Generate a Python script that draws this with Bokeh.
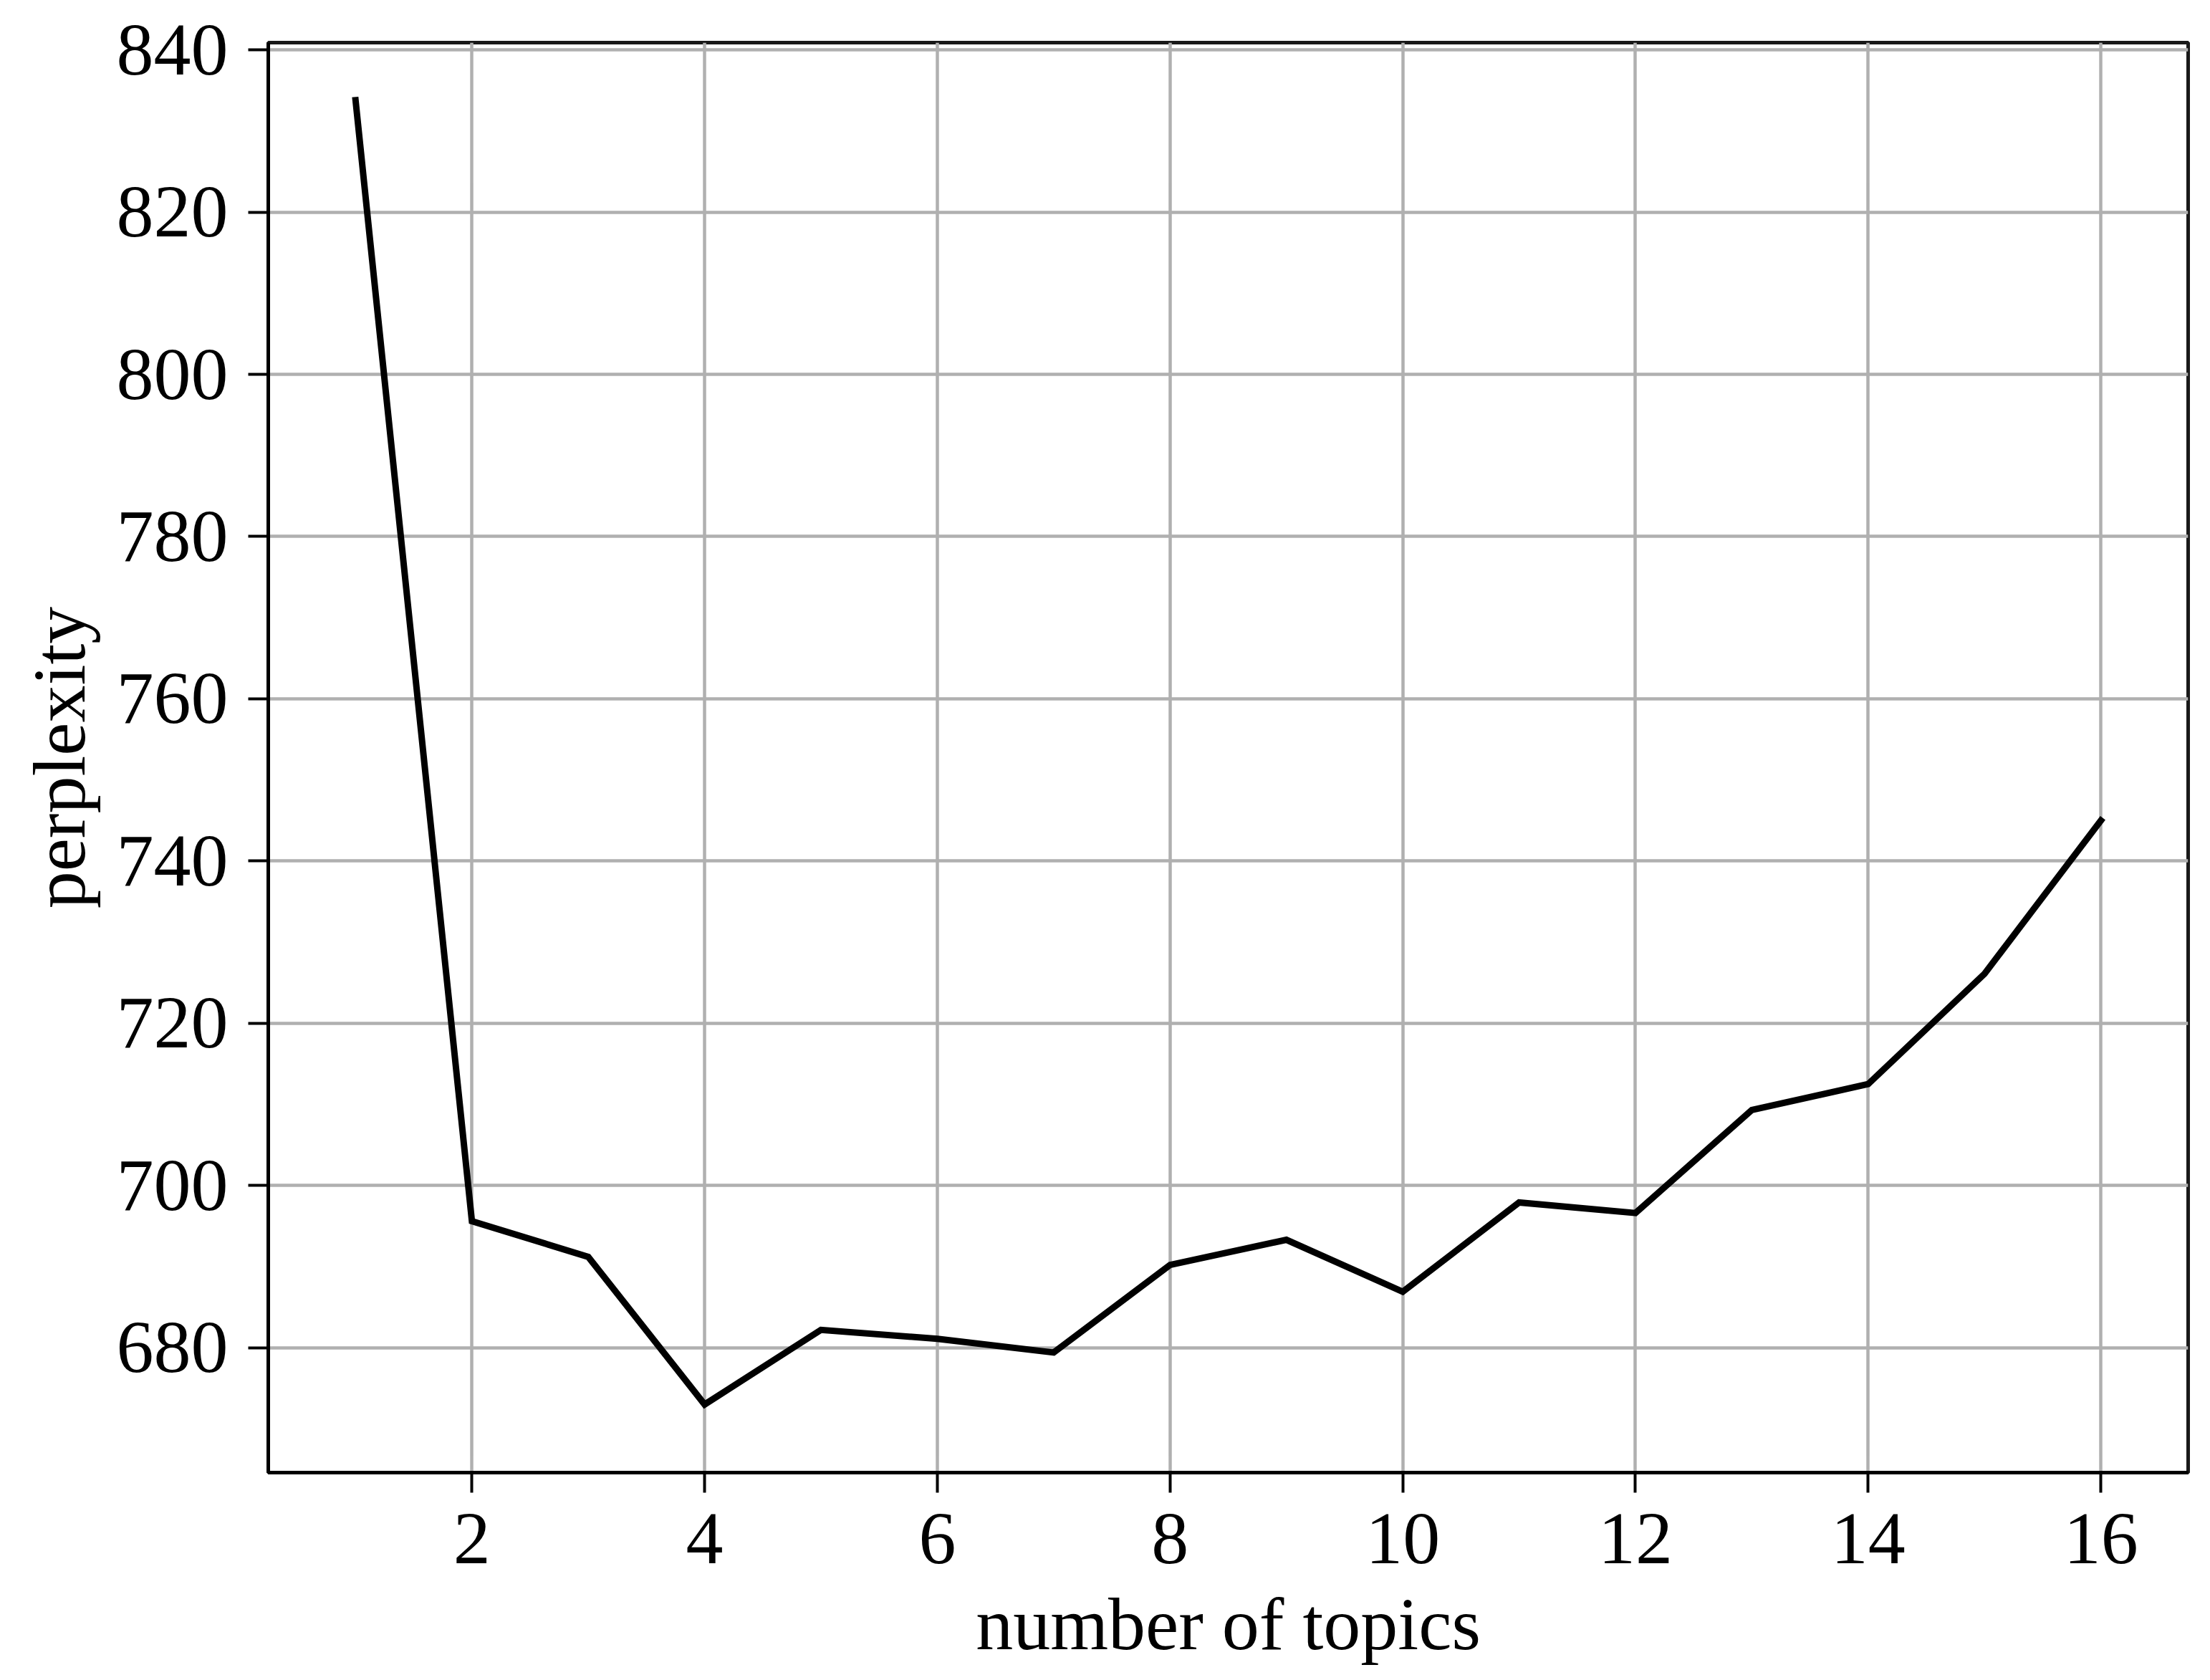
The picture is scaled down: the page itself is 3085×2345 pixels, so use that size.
from bokeh.plotting import figure
from bokeh.models import FixedTicker, Range1d
from bokeh.embed import file_html
from bokeh.resources import INLINE

# Data
topics = [1, 2, 3, 4, 5, 6, 7, 8, 9, 10, 11, 12, 13, 14, 15, 16]
perplexity = [833.8, 695.6, 691.2, 673.0, 682.2, 681.1, 679.4, 690.2, 693.3,
              686.9, 697.9, 696.6, 709.3, 712.5, 726.1, 745.0]
x_ticks = [2, 4, 6, 8, 10, 12, 14, 16]
y_ticks = [680, 700, 720, 740, 760, 780, 800, 820, 840]

FONT = "Liberation Serif"
FS = "104px"

W, H = 3077, 2337
p = figure(width=W, height=H, output_backend="svg", toolbar_location=None,
           x_range=Range1d(0.25, 16.75), y_range=Range1d(664.6, 840.9),
           min_border_left=374, min_border_top=59, min_border_right=W - 3054,
           min_border_bottom=H - 2055)

p.line(topics, perplexity, line_color="black", line_width=9,
       line_join="miter", line_cap="square")

p.xaxis.ticker = FixedTicker(ticks=x_ticks)
p.yaxis.ticker = FixedTicker(ticks=y_ticks)
p.xgrid.ticker = FixedTicker(ticks=x_ticks)
p.ygrid.ticker = FixedTicker(ticks=y_ticks)

for g in (p.xgrid, p.ygrid):
    g.grid_line_color = "#b0b0b0"
    g.grid_line_width = 4.5

p.outline_line_color = "black"
p.outline_line_width = 5
p.outline_line_alpha = 0.9

p.xaxis.axis_label = "number of topics"
p.yaxis.axis_label = "perplexity"
for ax in (p.xaxis, p.yaxis):
    ax.axis_line_color = "black"
    ax.axis_line_width = 5
    ax.major_tick_line_color = "black"
    ax.major_tick_line_width = 4
    ax.major_tick_out = 28
    ax.major_tick_in = 0
    ax.minor_tick_line_color = None
    ax.major_label_text_font = FONT
    ax.major_label_text_font_size = FS
    ax.major_label_text_color = "black"
    ax.axis_label_text_font = FONT
    ax.axis_label_text_font_size = FS
    ax.axis_label_text_font_style = "normal"
    ax.axis_label_text_color = "black"

p.xaxis.major_label_standoff = 30
p.xaxis.axis_label_standoff = 24
p.yaxis.major_label_standoff = 28
p.yaxis.axis_label_standoff = 20

p.background_fill_color = "white"
p.border_fill_color = "white"

open("out.html", "w").write(file_html(p, INLINE))
